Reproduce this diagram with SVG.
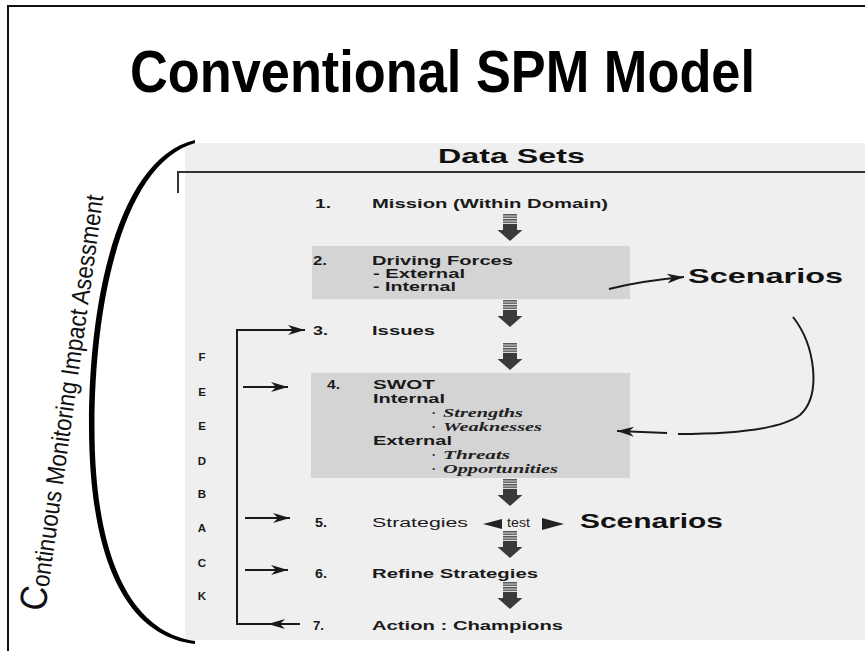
<svg xmlns="http://www.w3.org/2000/svg" width="865" height="651" viewBox="0 0 865 651">
<defs>
<style>
.t{font-family:"Liberation Sans",Arial,sans-serif;font-weight:bold;font-size:12px;fill:#1a1a1a}
.n{font-weight:normal}
.it{font-family:"Liberation Serif","Times New Roman",serif;font-style:italic;font-weight:bold;font-size:12.5px;fill:#222}
.big{font-family:"Liberation Sans",Arial,sans-serif;font-weight:bold;font-size:21px;fill:#111}
.fb{font-family:"Liberation Sans",Arial,sans-serif;font-weight:bold;font-size:11.5px;fill:#1a1a1a;text-anchor:middle}
.ln{fill:none;stroke:#1a1a1a;stroke-width:2}
.box{fill:#d4d4d4}
</style>
<pattern id="stripe" width="14" height="2.5" patternUnits="userSpaceOnUse"><rect width="14" height="2.5" fill="#e6e6e6"/><rect width="14" height="1.5" fill="#555"/></pattern>
<marker id="ah" markerWidth="18" markerHeight="12" refX="17" refY="6" orient="auto" markerUnits="userSpaceOnUse"><path d="M0,1 L17,6 L0,11 L5,6 Z" fill="#1a1a1a"/></marker>
<g id="darr"><rect x="-7" y="0" width="14" height="11" fill="url(#stripe)"/><rect x="-7" y="10" width="14" height="7" fill="#3a3a3a"/><path d="M-12.5,16 L12.5,16 L0,27 Z" fill="#3a3a3a"/></g>
</defs>
<rect width="865" height="651" fill="#fff"/>
<path d="M8,651 L8,6 L865,6" fill="none" stroke="#111" stroke-width="2"/>
<rect x="185" y="143" width="680" height="497" fill="#efefef"/>

<g id="title"><text x="130" y="92" font-family="'Liberation Sans Narrow','Liberation Sans',Arial,sans-serif" font-weight="bold" font-size="59" fill="#000" textLength="625" lengthAdjust="spacingAndGlyphs">Conventional SPM Model</text></g>

<g id="monitoring">
<path d="M195,140 C118,158 88,300 89,430 C90,560 126,636 195,644 L195,641 C132,632 95,560 94.5,430 C94,300 124,163 195,143 Z" fill="#000"/>
<text transform="translate(45,612) rotate(-82)" font-family="'Liberation Sans Narrow','Liberation Sans',Arial,sans-serif" font-size="25" fill="#111" textLength="420" lengthAdjust="spacingAndGlyphs"><tspan font-size="38">C</tspan>ontinuous Monitoring Impact Asessment</text>
</g>

<g id="datasets">
<text class="big" x="438" y="163" textLength="147" lengthAdjust="spacingAndGlyphs">Data Sets</text>
<path d="M178,193 L178,172 L865,172" fill="none" stroke="#333" stroke-width="2"/>
</g>

<g id="step1">
<text class="t" x="315" y="208" textLength="16" lengthAdjust="spacingAndGlyphs">1.</text>
<text class="t" x="372" y="208" textLength="236" lengthAdjust="spacingAndGlyphs">Mission (Within Domain)</text>
</g>

<g id="step2">
<rect class="box" x="312" y="246" width="318" height="53"/>
<text class="t" x="313" y="265" textLength="14" lengthAdjust="spacingAndGlyphs">2.</text>
<text class="t" x="372" y="265" textLength="141" lengthAdjust="spacingAndGlyphs">Driving Forces</text>
<text class="t" x="373" y="278" textLength="92" lengthAdjust="spacingAndGlyphs">- External</text>
<text class="t" x="373" y="291" textLength="83" lengthAdjust="spacingAndGlyphs">- Internal</text>
</g>

<g id="scenarios1"><text class="big" x="688" y="283" textLength="155" lengthAdjust="spacingAndGlyphs">Scenarios</text></g>

<g id="step3">
<text class="t" x="313" y="335" textLength="15" lengthAdjust="spacingAndGlyphs">3.</text>
<text class="t" x="372" y="335" textLength="63" lengthAdjust="spacingAndGlyphs">Issues</text>
</g>

<g id="step4">
<rect class="box" x="311" y="373" width="319" height="105"/>
<text class="t" x="327" y="389" textLength="13" lengthAdjust="spacingAndGlyphs">4.</text>
<text class="t" x="373" y="389" textLength="62" lengthAdjust="spacingAndGlyphs">SWOT</text>
<text class="t" x="373" y="403" textLength="72" lengthAdjust="spacingAndGlyphs">Internal</text>
<text class="it" x="432" y="417">·</text><text class="it" x="443" y="417" textLength="80" lengthAdjust="spacingAndGlyphs">Strengths</text>
<text class="it" x="432" y="431">·</text><text class="it" x="443" y="431" textLength="99" lengthAdjust="spacingAndGlyphs">Weaknesses</text>
<text class="t" x="373" y="445" textLength="79" lengthAdjust="spacingAndGlyphs">External</text>
<text class="it" x="432" y="459">·</text><text class="it" x="443" y="459" textLength="67" lengthAdjust="spacingAndGlyphs">Threats</text>
<text class="it" x="432" y="473">·</text><text class="it" x="443" y="473" textLength="115" lengthAdjust="spacingAndGlyphs">Opportunities</text>
</g>

<g id="step5">
<text class="t" x="315" y="527" textLength="12" lengthAdjust="spacingAndGlyphs">5.</text>
<text class="t n" x="372" y="527" textLength="96" lengthAdjust="spacingAndGlyphs">Strategies</text>
<polygon points="483,524 502,519 502,529" fill="#222"/>
<text class="t n" x="507" y="527" font-size="11" textLength="23" lengthAdjust="spacingAndGlyphs">test</text>
<polygon points="542,518 564,524 542,530" fill="#222"/>
</g>

<g id="scenarios2"><text class="big" x="580" y="528" textLength="143" lengthAdjust="spacingAndGlyphs">Scenarios</text></g>

<g id="step6">
<text class="t" x="315" y="578" textLength="12" lengthAdjust="spacingAndGlyphs">6.</text>
<text class="t" x="372" y="578" textLength="166" lengthAdjust="spacingAndGlyphs">Refine Strategies</text>
</g>

<g id="step7">
<text class="t" x="313" y="630" textLength="11" lengthAdjust="spacingAndGlyphs">7.</text>
<text class="t" x="372" y="630" textLength="191" lengthAdjust="spacingAndGlyphs">Action : Champions</text>
</g>

<g id="feedback">
<text class="fb" x="202" y="361">F</text>
<text class="fb" x="202" y="396">E</text>
<text class="fb" x="202" y="430">E</text>
<text class="fb" x="202" y="465">D</text>
<text class="fb" x="202" y="498">B</text>
<text class="fb" x="202" y="532">A</text>
<text class="fb" x="202" y="567">C</text>
<text class="fb" x="202" y="600">K</text>
</g>

<g id="connectors">
<use href="#darr" x="510" y="214"/>
<use href="#darr" x="510" y="300"/>
<use href="#darr" x="510" y="343"/>
<use href="#darr" x="510" y="479"/>
<use href="#darr" x="510" y="531"/>
<use href="#darr" x="510" y="582"/>
<path class="ln" d="M270,624 L237,624 L237,330 L305,330" marker-end="url(#ah)"/>
<path class="ln" d="M300,624 L268,624" marker-end="url(#ah)"/>
<path class="ln" d="M243,387 L288,387" marker-end="url(#ah)"/>
<path class="ln" d="M245,518 L290,518" marker-end="url(#ah)"/>
<path class="ln" d="M245,570 L288,570" marker-end="url(#ah)"/>
<path class="ln" stroke-width="3" d="M609,289 Q640,281 684,277" marker-end="url(#ah)"/>
<path class="ln" stroke-width="2.5" d="M793,317 C815,345 822,395 800,415 C780,430 730,434 678,434"/>
<path class="ln" stroke-width="3" d="M667,433 L617,431" marker-end="url(#ah)"/>
</g>
</svg>
